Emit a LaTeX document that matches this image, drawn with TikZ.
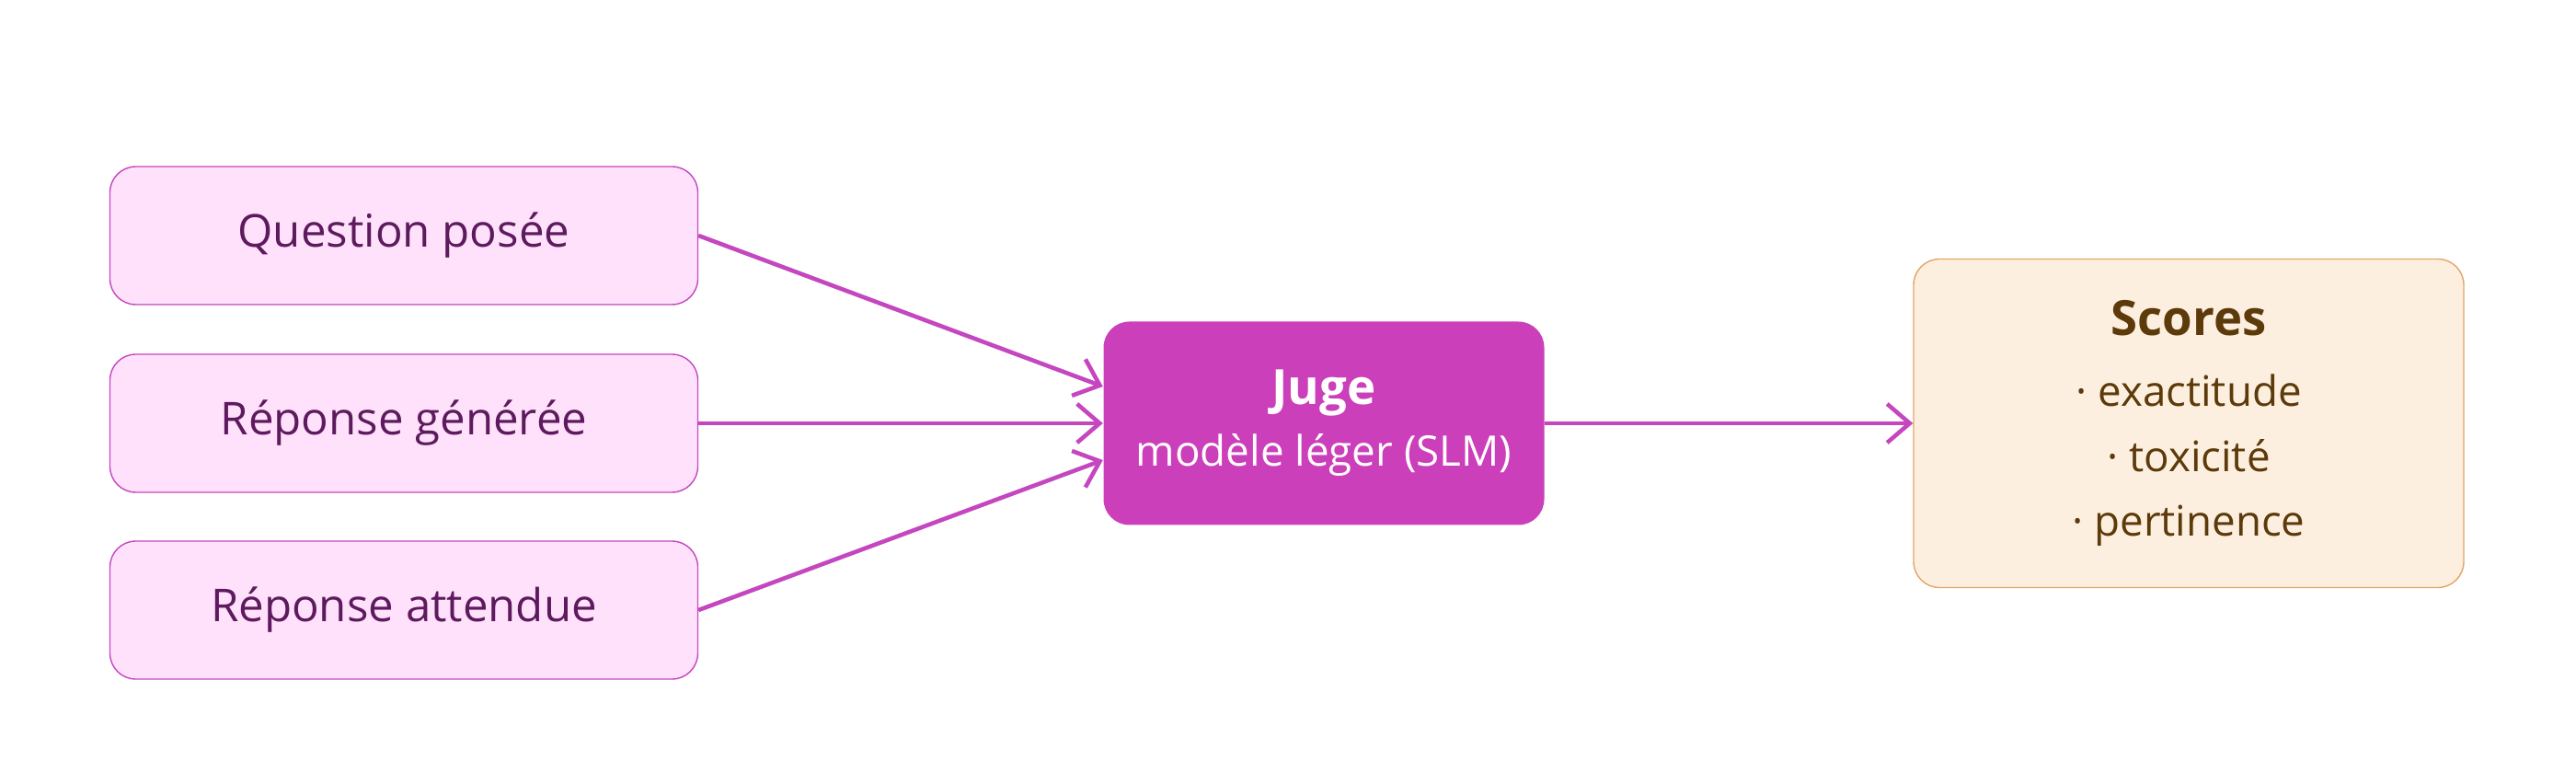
\documentclass[tikz,border=0pt]{standalone}
\usepackage{fontspec}
\setmainfont{Open Sans}
\usetikzlibrary{positioning,arrows.meta}
\definecolor{inFill}{HTML}{FFE1FB}
\definecolor{inLine}{HTML}{C447C0}
\definecolor{inText}{HTML}{5E1A5E}
\definecolor{jgFill}{HTML}{CC3FBA}
\definecolor{scFill}{HTML}{FDEFE0}
\definecolor{scLine}{HTML}{E3A568}
\definecolor{scText}{HTML}{5C3A0A}
\begin{document}
\begin{tikzpicture}
\tikzstyle{input}=[draw=inLine,fill=inFill,text=inText,rounded corners=8pt,minimum width=6.39cm,minimum height=1.5cm,font=\fontsize{14}{17}\selectfont]
\tikzstyle{flow}=[draw=inLine,line width=1.3pt,-{Straight Barb[length=7pt,width=12pt]}]
\useasboundingbox (0,0) rectangle (28,8.4);
\node [input] (question) at (4.39,5.84) {Question posée};
\node [input] (generee) at (4.39,3.80) {Réponse générée};
\node [input] (attendue) at (4.39,1.77) {Réponse attendue};
\node [fill=jgFill,text=white,rounded corners=8pt,minimum width=4.79cm,minimum height=2.21cm,align=center,font=\fontsize{13}{19}\selectfont] (juge) at (14.39,3.80) {{\bfseries\fontsize{15}{19}\selectfont Juge}\\modèle léger (SLM)};
\node [draw=scLine,fill=scFill,text=scText,rounded corners=8pt,minimum width=5.98cm,minimum height=3.57cm,align=center,font=\fontsize{13}{20}\selectfont] (scores) at (23.79,3.80) {{\bfseries\fontsize{15}{22}\selectfont Scores}\\[2pt]· exactitude\\· toxicité\\· pertinence};
\draw [flow] (question.east) -- ([yshift=0.4cm]juge.west);
\draw [flow] (generee.east) -- (juge.west);
\draw [flow] (attendue.east) -- ([yshift=-0.4cm]juge.west);
\draw [flow] (juge.east) -- (scores.west);
\end{tikzpicture}
\end{document}
